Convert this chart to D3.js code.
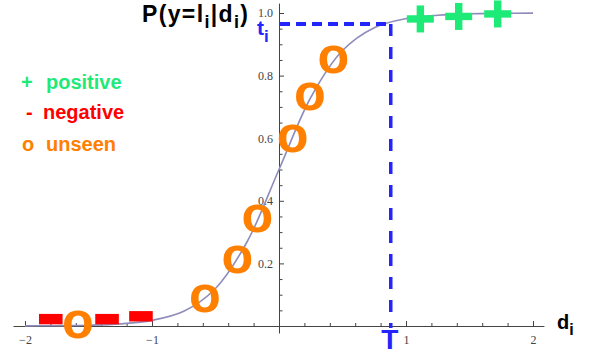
<!DOCTYPE html>
<html>
<head>
<meta charset="utf-8">
<script src="https://cdn.jsdelivr.net/npm/d3@7"></script>
<style>
  html, body { margin: 0; padding: 0; background: #fff; }
  svg { display: block; }
</style>
</head>
<body>
<svg id="chart" width="592" height="354"></svg>
<script>
// ---- data ----
const curveD = [-2, -1.75, -1.5, -1.25, -1, -0.75, -0.5, -0.25, 0, 0.25, 0.5, 0.75, 1, 1.25, 1.5, 1.75, 2];
const curveP = [0.0003, 0.001, 0.0025, 0.0067, 0.018, 0.047, 0.12, 0.27, 0.5, 0.73, 0.88, 0.953, 0.982, 0.993, 0.9975, 0.999, 0.9997];
const positiveD = [1.113, 1.415, 1.722];
const positiveP = [0.981, 0.989, 0.997];
const negativeD = [-1.797, -1.354, -1.087];
const negativeP = [0.022, 0.022, 0.031];
const unseenD = [-1.584, -0.583, -0.328, -0.171, 0.108, 0.244, 0.428];
const unseenP = [0.005, 0.089, 0.213, 0.344, 0.600, 0.733, 0.850];
const thresholdT = 0.88;
const thresholdt = 0.965;
const xTickLabels = [-2, -1, 1, 2];
const yTickLabels = [0.2, 0.4, 0.6, 0.8, 1.0];
const legendItems = [
  { sym: "+", label: "positive", color: "#1eea78" },
  { sym: "-", label: "negative", color: "#ff0000" },
  { sym: "o", label: "unseen", color: "#ff8000" }
];

const svg = d3.select("#chart");
svg.append("rect").attr("width", 592).attr("height", 354).attr("fill", "#fff");

const x = d3.scaleLinear().domain([-2, 2]).range([25, 533]);
const y = d3.scaleLinear().domain([0, 1]).range([326, 13]);

const axisColor = "#444";
const labelFont = "'Liberation Serif', 'Times New Roman', serif";

// ---- x axis ----
const xMinor = d3.range(-2, 2.001, 0.2).map(v => +v.toFixed(2)).filter(v => Math.abs(v - Math.round(v)) > 1e-6);
const gx = svg.append("g").attr("transform", `translate(0,${y(0)})`);
gx.append("g").call(d3.axisBottom(x).tickValues(xMinor).tickSize(-3).tickFormat(""))
  .call(g => g.select(".domain").remove());
gx.append("g").call(d3.axisBottom(x).tickValues(xTickLabels).tickSize(-5).tickPadding(9)
    .tickFormat(d => d < 0 ? "\u2212" + Math.abs(d) : String(d)))
  .call(g => g.select(".domain").remove());
gx.append("line").attr("x1", x(-2.09)).attr("x2", x(2.09)).attr("y1", 0.5).attr("y2", 0.5);
gx.selectAll("line").attr("stroke", axisColor).attr("stroke-width", 1);
gx.selectAll("text").attr("font-family", labelFont).attr("font-size", 12).attr("fill", "#444");

// ---- y axis ----
const yMinor = d3.range(0.05, 1.001, 0.05).map(v => +v.toFixed(2)).filter(v => Math.abs(v * 5 - Math.round(v * 5)) > 1e-6);
const gy = svg.append("g").attr("transform", `translate(${x(0)},0)`);
gy.append("g").call(d3.axisLeft(y).tickValues(yMinor).tickSize(-3.5).tickFormat(""))
  .call(g => g.select(".domain").remove());
gy.append("g").call(d3.axisLeft(y).tickValues(yTickLabels).tickSize(-5).tickPadding(6).tickFormat(d3.format(".1f")))
  .call(g => g.select(".domain").remove());
gy.append("line").attr("x1", 0.5).attr("x2", 0.5).attr("y1", y(-0.024)).attr("y2", y(1.03));
gy.selectAll("line").attr("stroke", axisColor).attr("stroke-width", 1);
gy.selectAll("text").attr("font-family", labelFont).attr("font-size", 12).attr("fill", "#444");

// ---- curve ----
const line = d3.line().x(d => x(d[0])).y(d => y(d[1])).curve(d3.curveCatmullRom);
svg.append("path")
  .datum(d3.zip(curveD, curveP))
  .attr("d", line)
  .attr("fill", "none")
  .attr("stroke", "#8e8cba")
  .attr("stroke-width", 1.6);

// ---- threshold dashed lines ----
const blue = "#2424ff";
svg.append("line")
  .attr("x1", x(0) + 1).attr("x2", x(thresholdT))
  .attr("y1", y(thresholdt)).attr("y2", y(thresholdt))
  .attr("stroke", blue).attr("stroke-width", 4).attr("stroke-dasharray", "10,6");
svg.append("line")
  .attr("x1", x(thresholdT)).attr("x2", x(thresholdT))
  .attr("y1", y(thresholdt)).attr("y2", y(-0.006))
  .attr("stroke", blue).attr("stroke-width", 3.5).attr("stroke-dasharray", "12,11");

// ---- negative marks ----
svg.append("g").selectAll("rect")
  .data(d3.zip(negativeD, negativeP))
  .join("rect")
  .attr("x", d => x(d[0]) - 11.8)
  .attr("y", d => y(d[1]) - 5.2)
  .attr("width", 23.6)
  .attr("height", 10.4)
  .attr("fill", "#ff0000");

// ---- unseen marks ----
svg.append("g").selectAll("text")
  .data(d3.zip(unseenD, unseenP))
  .join("text")
  .attr("x", d => x(d[0]))
  .attr("y", d => y(d[1]) + 13.5)
  .attr("text-anchor", "middle")
  .attr("font-family", "'Liberation Sans', Arial, sans-serif")
  .attr("font-weight", "bold")
  .attr("font-size", 52)
  .attr("fill", "#ff8000")
  .text("o");

// ---- positive marks ----
const gp = svg.append("g").selectAll("g")
  .data(d3.zip(positiveD, positiveP))
  .join("g")
  .attr("transform", d => `translate(${x(d[0])},${y(d[1])})`);
gp.append("rect").attr("x", -13.5).attr("y", -3.7).attr("width", 27).attr("height", 7.4).attr("fill", "#1eea78");
gp.append("rect").attr("x", -3.7).attr("y", -13.5).attr("width", 7.4).attr("height", 27).attr("fill", "#1eea78");

// ---- legend ----
const sans = "'Liberation Sans', Arial, Helvetica, sans-serif";
const legendY = [89, 119, 151];
const symX = [21, 26, 22];
legendItems.forEach((it, i) => {
  const t = svg.append("text")
    .attr("y", legendY[i])
    .attr("font-family", sans).attr("font-weight", "bold").attr("font-size", 20)
    .attr("fill", it.color);
  t.append("tspan").attr("x", symX[i]).text(it.sym);
  t.append("tspan").attr("x", i === 1 ? 43 : 46).text(it.label);
});

// ---- title P(y=l_i|d_i) ----
const title = svg.append("text")
  .attr("x", 142).attr("y", 22)
  .attr("font-family", sans).attr("font-weight", "bold").attr("font-size", 23)
  .attr("fill", "#000")
  .attr("textLength", 106).attr("lengthAdjust", "spacing");
title.append("tspan").text("P(y=l");
title.append("tspan").attr("dy", 6).attr("font-size", 18).text("i");
title.append("tspan").attr("dy", -6).text("|d");
title.append("tspan").attr("dy", 6).attr("font-size", 18).text("i");
title.append("tspan").attr("dy", -6).text(")");

// ---- t_i label ----
const tl = svg.append("text")
  .attr("x", 257).attr("y", 35)
  .attr("font-family", sans).attr("font-weight", "bold").attr("font-size", 21)
  .attr("fill", blue);
tl.append("tspan").text("t");
tl.append("tspan").attr("dy", 7).attr("font-size", 17).text("i");

// ---- T label ----
svg.append("text")
  .attr("x", x(thresholdT) - 1).attr("y", 349)
  .attr("text-anchor", "middle")
  .attr("font-family", sans).attr("font-weight", "bold").attr("font-size", 28)
  .attr("fill", blue)
  .text("T");

// ---- d_i label ----
const dl = svg.append("text")
  .attr("x", 557).attr("y", 329)
  .attr("font-family", sans).attr("font-weight", "bold").attr("font-size", 20)
  .attr("fill", "#000");
dl.append("tspan").text("d");
dl.append("tspan").attr("dy", 6).attr("font-size", 16).text("i");
</script>
</body>
</html>
